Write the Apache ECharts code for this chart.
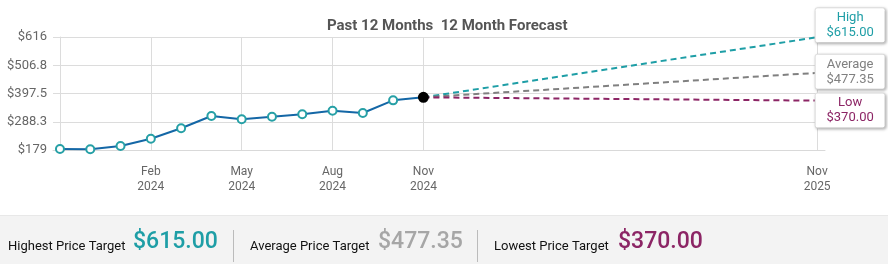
<!DOCTYPE html>
<html>
<head>
<meta charset="utf-8">
<script src="https://cdn.jsdelivr.net/npm/echarts@6/dist/echarts.min.js"></script>
<style>
  html, body { margin: 0; padding: 0; background: #fff; }
  #chart { width: 888px; height: 264px; }
</style>
</head>
<body>
<div id="chart"></div>
<script>
// monthly closes, Nov 2023 .. Nov 2024 (x = month index)
var histPrices = [183, 182, 194.5, 222.7, 263, 310.5, 297.7, 307.8, 317, 331, 322, 371, 382.7];
// forecast end point sits at this x position on the axis
var forecastPos = 25;
var targetNames = ['High', 'Average', 'Low'];
var targetValues = [615.00, 477.35, 370.00];
var targetColors = ['#1e9ea6', '#808080', '#8c2565'];
var labelOffsets = [-12, -1, 10];
// x axis ticks
var tickPositions = [3, 6, 9, 12, 25];
var tickLabels = ['Feb\n2024', 'May\n2024', 'Aug\n2024', 'Nov\n2024', 'Nov\n2025'];
// y axis
var yMin = 179, yMax = 616, yStep = 109.25;
var yLabels = ['$179', '$288.3', '$397.5', '$506.8', '$616'];
// summary row
var summaryTitles = ['Highest Price Target', 'Average Price Target', 'Lowest Price Target'];
var summaryColors = ['#1e9ea6', '#a6a6a6', '#8c2565'];

var font = 'Roboto, "Noto Sans", sans-serif';
var myChart = echarts.init(document.getElementById('chart'));

var seriesArray = [];
var histData = histPrices.map(function (v, i) { return [i, v]; });
var last = histData[histData.length - 1];

// 预测线
for (var k = 0; k < targetValues.length; k++) {
    seriesArray.push({
        type: 'line',
        name: targetNames[k],
        data: [last, [forecastPos, targetValues[k]]],
        symbol: 'none',
        lineStyle: { color: targetColors[k], width: 2, type: [6, 4] },
        z: 2,
        silent: true,
        endLabel: {
            show: true,
            distance: 0,
            offset: [33, labelOffsets[k]],
            formatter: (function (k) {
                return function () { return targetNames[k] + '\n$' + targetValues[k].toFixed(2); };
            })(k),
            color: targetColors[k],
            fontFamily: font,
            fontSize: 13,
            lineHeight: 15,
            align: 'center',
            verticalAlign: 'middle',
            width: 53,
            backgroundColor: '#fff',
            borderColor: '#e4e4e4',
            borderWidth: 1,
            borderRadius: 2,
            padding: [2, 8],
            shadowColor: 'rgba(0,0,0,0.25)',
            shadowBlur: 3,
            shadowOffsetX: 1,
            shadowOffsetY: 1
        }
    });
}

// 历史价格
seriesArray.push({
    type: 'line',
    name: 'Price',
    data: histData.map(function (d, i) {
        if (i === histData.length - 1) {
            return { value: d, symbolSize: 9, itemStyle: { color: '#000', borderColor: '#000' } };
        }
        return d;
    }),
    symbol: 'circle',
    symbolSize: 8,
    lineStyle: { color: '#1467a6', width: 2 },
    itemStyle: { color: '#fff', borderColor: '#26a0a6', borderWidth: 2 },
    z: 5,
    silent: true
});

// 底部汇总
var graphics = [
    { type: 'rect', left: 0, top: 215, shape: { width: 888, height: 49 }, style: { fill: '#f3f3f3' } },
    { type: 'rect', left: 0, top: 215, shape: { width: 888, height: 1 }, style: { fill: '#e8e8e8' } },
    { type: 'text', left: 327, top: 19, style: { text: 'Past 12 Months  12 Month Forecast', font: 'bold 15px ' + font, fill: '#555' } }
];
var sx = [8, 250, 494];
var vx = [133, 378, 618];
for (var j = 0; j < 3; j++) {
    graphics.push({ type: 'text', left: sx[j], top: 240, style: { text: summaryTitles[j], font: '13px ' + font, fill: '#111' } });
    graphics.push({ type: 'text', left: vx[j], top: 231, style: { text: '$' + targetValues[j].toFixed(2), font: '500 23px ' + font, fill: summaryColors[j] } });
}
graphics.push({ type: 'rect', left: 233, top: 230, shape: { width: 1, height: 32 }, style: { fill: '#bbb' } });
graphics.push({ type: 'rect', left: 477, top: 230, shape: { width: 1, height: 32 }, style: { fill: '#bbb' } });

var option = {
    animation: false,
    grid: { left: 53, right: 63, top: 37, bottom: 114, containLabel: false },
    xAxis: {
        type: 'value',
        min: -0.23,
        max: 25.26,
        axisLine: { show: true, lineStyle: { color: '#d9d9d9' } },
        axisTick: { show: false, customValues: tickPositions },
        axisLabel: {
            customValues: tickPositions,
            formatter: function (v) {
                var i = tickPositions.indexOf(v);
                return i >= 0 ? tickLabels[i] : '';
            },
            color: '#666',
            fontFamily: font,
            fontSize: 12,
            lineHeight: 15,
            margin: 14
        },
        splitLine: { show: true, lineStyle: { color: '#dcdcdc' } }
    },
    yAxis: {
        type: 'value',
        min: yMin,
        max: yMax,
        interval: yStep,
        axisLine: { show: true, lineStyle: { color: '#dcdcdc' } },
        axisTick: { show: false },
        axisLabel: {
            formatter: function (v) {
                var i = Math.round((v - yMin) / yStep);
                return yLabels[i];
            },
            color: '#666',
            fontFamily: font,
            fontSize: 13,
            margin: 6
        },
        splitLine: { lineStyle: { color: '#dcdcdc' } }
    },
    graphic: graphics,
    series: seriesArray
};
myChart.setOption(option);
</script>
</body>
</html>
